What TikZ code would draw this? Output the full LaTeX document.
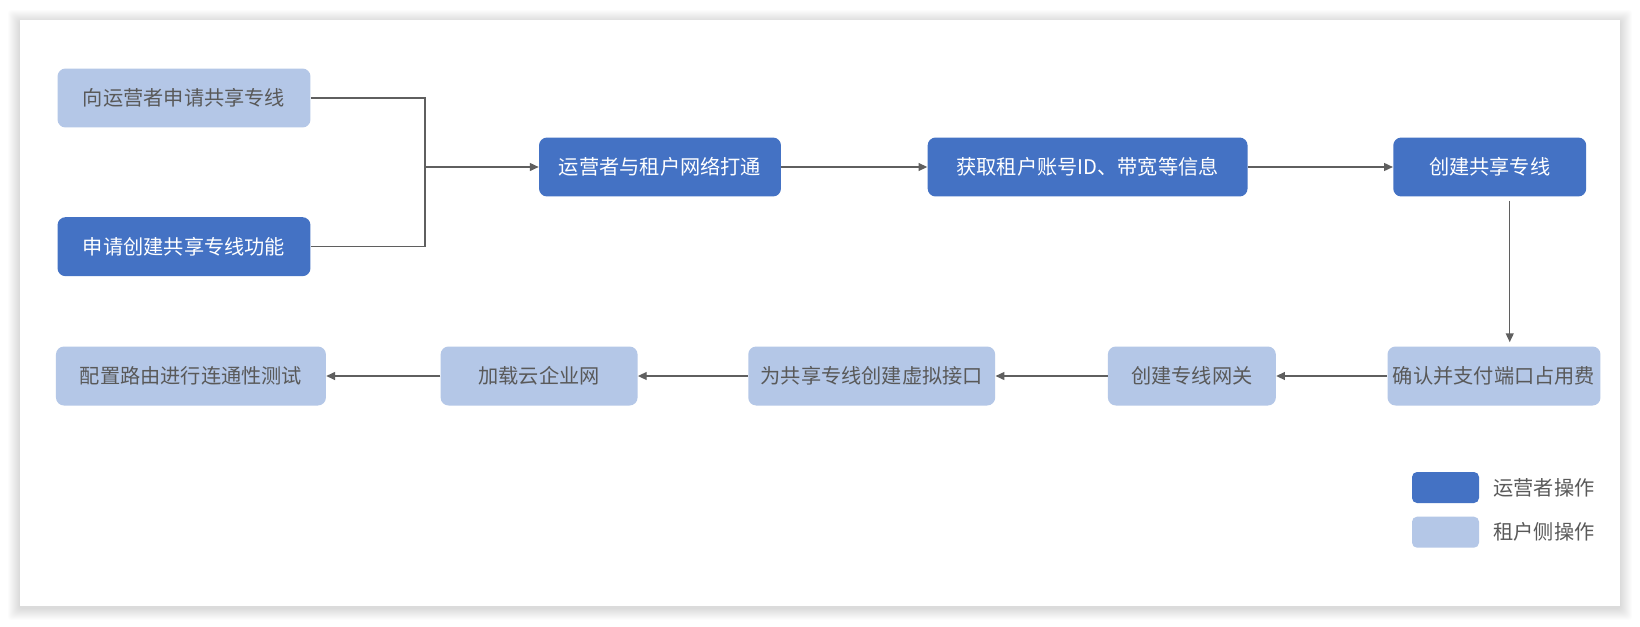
\documentclass[tikz,border=0pt]{standalone}
\usepackage{fontspec}
\setmainfont{Noto Sans CJK SC}
\usetikzlibrary{positioning,arrows.meta}
\definecolor{opblue}{HTML}{4472C4}
\definecolor{tenblue}{HTML}{B4C7E7}
\definecolor{txtgray}{HTML}{595959}
\definecolor{linegray}{HTML}{5F5F5F}

\begin{document}
\begin{tikzpicture}[
    x=0.02cm, y=-0.02cm,
    node distance=2.2cm,
    opbox/.style={rectangle, rounded corners=0.16cm, fill=opblue, text=white, minimum height=1.18cm, inner xsep=2pt, align=center, font=\fontsize{11.5}{14}\selectfont},
    tenbox/.style={opbox, fill=tenblue, text=txtgray},
    swatch/.style={rectangle, rounded corners=0.1cm, minimum width=1.34cm, minimum height=0.62cm},
    legtext/.style={text=txtgray, font=\fontsize{11.5}{14}\selectfont},
    arrow/.style={-{Triangle[length=5pt, width=4.5pt]}, draw=linegray, line width=0.75pt},
    link/.style={draw=linegray, line width=0.75pt}
]

% canvas and card shadow
\useasboundingbox (0,0) rectangle (1640,626);
\foreach \i in {1,...,12}
  \fill[black, opacity=0.012, rounded corners=2pt] (20-\i,22-\i) rectangle (1620+\i,608+\i);
\fill[white] (20,20) rectangle (1620,606);

% requests
\node[tenbox, minimum width=5.06cm] (apply) at (184,98) {向运营者申请共享专线};
\node[opbox, minimum width=5.06cm, below=1.78cm of apply] (enable) {申请创建共享专线功能};

% operator steps
\node[opbox, minimum width=4.84cm] (connect) at (660,167) {运营者与租户网络打通};
\node[opbox, minimum width=6.4cm, right=2.92cm of connect] (info) {获取租户账号ID、带宽等信息};
\node[opbox, minimum width=3.86cm, right=2.9cm of info] (create) {创建共享专线};

% tenant steps
\node[tenbox, minimum width=4.26cm] (pay) at (1494,376) {确认并支付端口占用费};
\node[tenbox, minimum width=3.36cm, left=2.22cm of pay] (gateway) {创建专线网关};
\node[tenbox, minimum width=4.94cm, left=2.24cm of gateway] (vif) {为共享专线创建虚拟接口};
\node[tenbox, minimum width=3.94cm, left=2.2cm of vif] (cen) {加载云企业网};
\node[tenbox, minimum width=5.4cm, left=2.28cm of cen] (test) {配置路由进行连通性测试};

% legend
\node[swatch, fill=opblue] (keyop) at (1445.5,487.5) {};
\node[legtext, right=0.16cm of keyop] (keyoptext) {运营者操作};
\node[swatch, fill=tenblue, below=0.26cm of keyop] (keyten) {};
\node[legtext, right=0.16cm of keyten] (keytentext) {租户侧操作};

% connectors
\coordinate (join) at (425,167);
\coordinate (drop) at ([xshift=0.4cm, yshift=-0.08cm]create.south);
\draw[link] (apply.east) -| (join) |- (enable.east);
\draw[arrow] (join) -- (connect.west);
\draw[arrow] (connect) -- (info);
\draw[arrow] (info) -- (create);
\draw[arrow] (drop) -- ([yshift=0.08cm]drop |- pay.north);
\draw[arrow] (pay) -- (gateway);
\draw[arrow] (gateway) -- (vif);
\draw[arrow] (vif) -- (cen);
\draw[arrow] (cen) -- (test);

\end{tikzpicture}
\end{document}
